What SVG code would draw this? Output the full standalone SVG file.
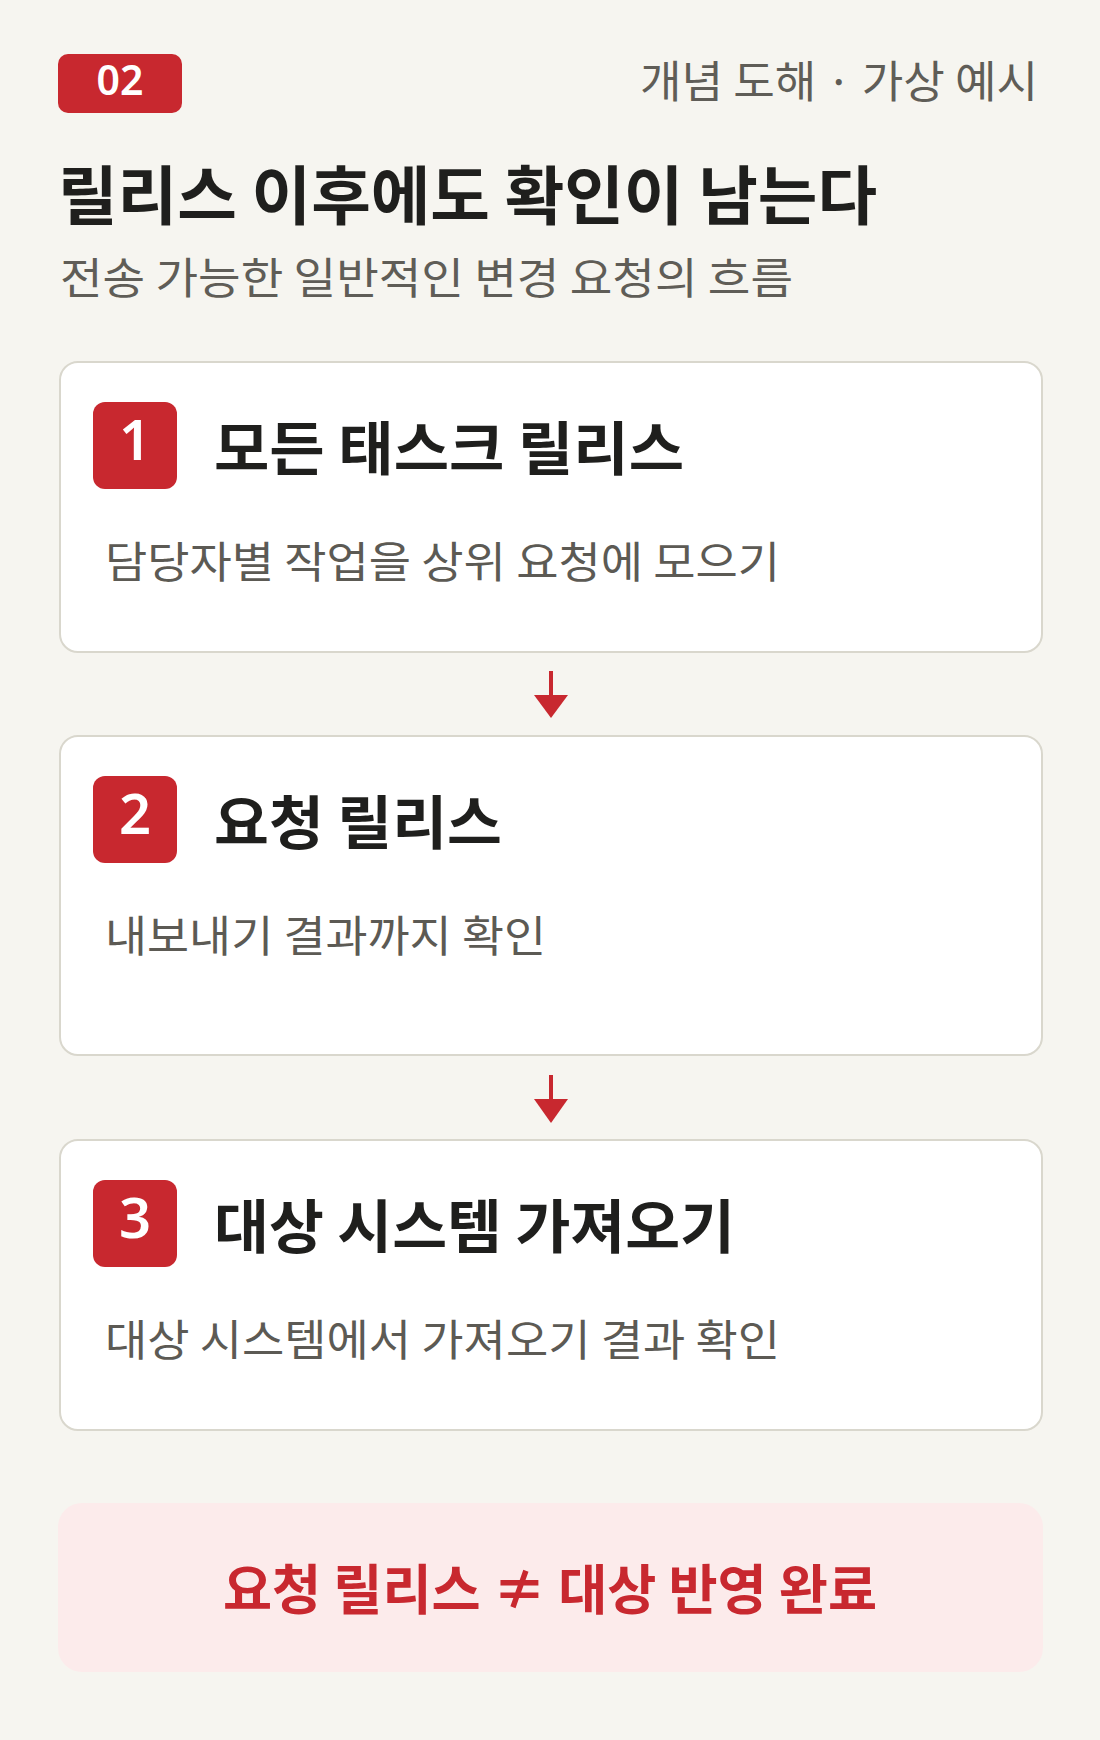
<svg xmlns="http://www.w3.org/2000/svg" width="1100" height="1740" viewBox="0 0 1100 1740">
  <defs>
    <style>
      .kr { font-family: "Noto Sans CJK KR", "Noto Sans", sans-serif; }
      .num { font-family: "Noto Sans", "Open Sans", sans-serif; font-weight: 600; fill: #ffffff; text-anchor: middle; }
      .card { fill: #ffffff; stroke: #d9d7cd; stroke-width: 2; }
      .badge { fill: #c8282f; }
      .ttl { font-weight: 700; fill: #1f1f1d; font-size: 58px; }
      .desc { font-weight: 400; fill: #5c5a54; font-size: 43px; }
      .conn { stroke: #c8282f; stroke-width: 4; fill: none; }
      .head { fill: #c8282f; }
    </style>
  </defs>
  <rect x="0" y="0" width="1100" height="1740" fill="#f6f5f0"/>

  <g id="header">
    <rect x="58" y="54" width="124" height="59" rx="10" class="badge"/>
    <text x="120" y="95" class="num" font-size="41">02</text>
    <text x="640" y="98" class="kr" font-size="44" fill="#5f5d57" textLength="398" lengthAdjust="spacingAndGlyphs">개념 도해 · 가상 예시</text>
    <text x="58" y="219" class="kr" font-size="64" font-weight="700" fill="#1f1f1d" textLength="819" lengthAdjust="spacingAndGlyphs">릴리스 이후에도 확인이 남는다</text>
    <text x="60" y="294" class="kr" font-size="43" fill="#5f5d57" textLength="733" lengthAdjust="spacingAndGlyphs">전송 가능한 일반적인 변경 요청의 흐름</text>
  </g>

  <g id="step1">
    <rect x="60" y="362" width="982" height="290" rx="18" class="card"/>
    <rect x="93" y="402" width="84" height="87" rx="12" class="badge"/>
    <text x="135" y="460" class="num" font-size="56">1</text>
    <text x="214" y="470" class="kr ttl" textLength="470" lengthAdjust="spacingAndGlyphs">모든 태스크 릴리스</text>
    <text x="105" y="578" class="kr desc" textLength="675" lengthAdjust="spacingAndGlyphs">담당자별 작업을 상위 요청에 모으기</text>
  </g>

  <g id="step2">
    <rect x="60" y="736" width="982" height="319" rx="18" class="card"/>
    <rect x="93" y="776" width="84" height="87" rx="12" class="badge"/>
    <text x="135" y="834" class="num" font-size="56">2</text>
    <text x="214" y="844" class="kr ttl" textLength="288" lengthAdjust="spacingAndGlyphs">요청 릴리스</text>
    <text x="105" y="952" class="kr desc" textLength="441" lengthAdjust="spacingAndGlyphs">내보내기 결과까지 확인</text>
  </g>

  <g id="step3">
    <rect x="60" y="1140" width="982" height="290" rx="18" class="card"/>
    <rect x="93" y="1180" width="84" height="87" rx="12" class="badge"/>
    <text x="135" y="1238" class="num" font-size="56">3</text>
    <text x="214" y="1248" class="kr ttl" textLength="521" lengthAdjust="spacingAndGlyphs">대상 시스템 가져오기</text>
    <text x="105" y="1356" class="kr desc" textLength="675" lengthAdjust="spacingAndGlyphs">대상 시스템에서 가져오기 결과 확인</text>
  </g>

  <g id="summary">
    <rect x="58" y="1503" width="985" height="169" rx="24" fill="#fcebeb"/>
    <text x="223" y="1610" class="kr" font-size="54" font-weight="700" fill="#c8282f" textLength="654" lengthAdjust="spacingAndGlyphs">요청 릴리스 ≠ 대상 반영 완료</text>
  </g>

  <g id="connectors">
    <line x1="551" y1="671" x2="551" y2="697" class="conn"/>
    <polygon points="534,695 568,695 551,718" class="head"/>
    <line x1="551" y1="1075" x2="551" y2="1101" class="conn"/>
    <polygon points="534,1099 568,1099 551,1123" class="head"/>
  </g>
</svg>
